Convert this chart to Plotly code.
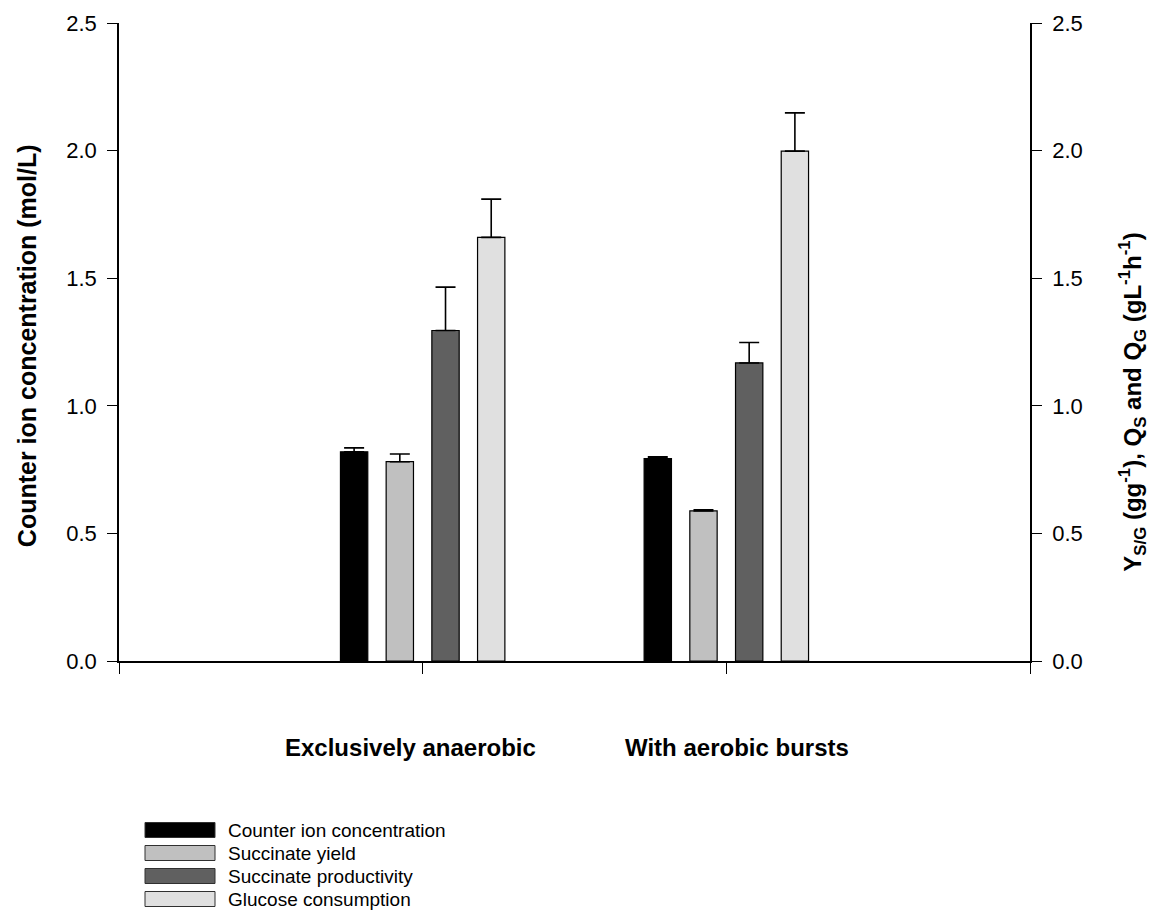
import plotly.graph_objects as go

# Operating modes shown on the x axis
groups = ["Exclusively anaerobic", "With aerobic bursts"]
group_pos = [1, 2]

# Measured responses per mode
counter_ion = [0.82, 0.793]          # mol/L (left axis)
counter_ion_err = [0.015, 0.007]
succ_yield = [0.781, 0.588]          # g/g (right axis)
succ_yield_err = [0.03, 0.004]
succ_prod = [1.295, 1.168]           # g/L/h (right axis)
succ_prod_err = [0.17, 0.08]
glucose = [1.66, 1.998]              # g/L/h (right axis)
glucose_err = [0.15, 0.15]

series = [
    ("Counter ion concentration", counter_ion, counter_ion_err, "#000000", "y"),
    ("Succinate yield", succ_yield, succ_yield_err, "#c0c0c0", "y2"),
    ("Succinate productivity", succ_prod, succ_prod_err, "#606060", "y2"),
    ("Glucose consumption", glucose, glucose_err, "#e0e0e0", "y2"),
]

FONT = "Liberation Sans, Arial, sans-serif"
slot = 0.1505      # spacing between bar centres within a group
bar_w = 0.09

fig = go.Figure()
n = len(series)
for i, (name, vals, errs, color, yax) in enumerate(series):
    offset = (i - (n - 1) / 2) * slot - bar_w / 2
    fig.add_trace(go.Bar(
        x=group_pos, y=vals, name=name, yaxis=yax,
        width=bar_w, offset=offset,
        marker=dict(color=color, line=dict(color="#000000", width=1.2)),
        error_y=dict(type="data", array=errs, arrayminus=[0] * len(errs),
                     symmetric=False, color="#000000", thickness=1.6, width=10),
        showlegend=False,
    ))

axis_common = dict(
    range=[0, 2.5], tickvals=[0, 0.5, 1.0, 1.5, 2.0, 2.5], tickformat=".1f",
    showgrid=False, zeroline=False, showline=True, linecolor="#000000",
    linewidth=1.6, ticks="outside", ticklen=10, tickwidth=1.2,
    tickcolor="#000000", tickfont=dict(family=FONT, size=22, color="#000000"),
    ticklabelstandoff=6,
)

fig.update_layout(
    width=1150, height=916,
    margin=dict(l=119, r=120, t=23, b=255),
    paper_bgcolor="#ffffff", plot_bgcolor="#ffffff",
    barmode="overlay",
    xaxis=dict(range=[0, 3], tickvals=[0, 1, 2, 3], showticklabels=False,
               showgrid=False, zeroline=False, showline=True,
               linecolor="#000000", linewidth=1.6, ticks="outside",
               ticklen=11, tickwidth=1.2, tickcolor="#000000"),
    yaxis=dict(side="left", **axis_common),
    yaxis2=dict(side="right", overlaying="y", **axis_common),
)

annotations = []
# Group labels under the x axis
for pos, label, shift in zip(group_pos, groups, [-12, 11]):
    annotations.append(dict(
        x=pos, y=0, xref="x", yref="paper", yshift=-86, xshift=shift,
        text="<b>%s</b>" % label, showarrow=False, yanchor="middle",
        font=dict(family=FONT, size=24, color="#000000"),
    ))

# Axis titles
annotations.append(dict(
    x=-0.101, y=0.495, xref="paper", yref="paper", textangle=-90,
    text="<b>Counter ion concentration (mol/L)</b>", showarrow=False,
    xanchor="center", yanchor="middle",
    font=dict(family=FONT, size=25, color="#000000"),
))
annotations.append(dict(
    x=1.112, y=0.405, xref="paper", yref="paper", textangle=-90,
    text="<b>Y<sub>S/G</sub> (gg<sup>-1</sup>), Q<sub>S</sub> and Q<sub>G</sub> "
         "(gL<sup>-1</sup>h<sup>-1</sup>)</b>",
    showarrow=False, xanchor="center", yanchor="middle",
    font=dict(family=FONT, size=24, color="#000000"),
))

# Legend drawn as swatches with labels below the plot
shapes = []
row_y0 = 830
row_step = 23
for i, (name, _, _, color, _) in enumerate(series):
    cy = row_y0 + i * row_step
    py = (661 - cy) / 638.0
    h = 7.5 / 638.0
    shapes.append(dict(
        type="rect", xref="paper", yref="paper",
        x0=(145 - 119) / 911.0, x1=(215 - 119) / 911.0, y0=py - h, y1=py + h,
        fillcolor=color, line=dict(color="#303030", width=1),
    ))
    annotations.append(dict(
        x=(226 - 119) / 911.0, y=py, xref="paper", yref="paper",
        text=name, showarrow=False, xanchor="left", yanchor="middle",
        font=dict(family=FONT, size=19, color="#000000"),
    ))

fig.update_layout(annotations=annotations, shapes=shapes)
fig.write_html("out.html")
